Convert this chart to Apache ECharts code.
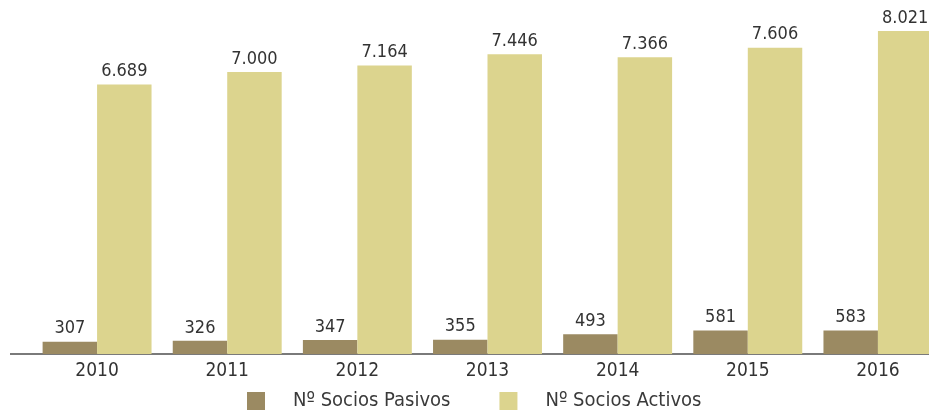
<!DOCTYPE html>
<html>
<head>
<meta charset="utf-8">
<script src="https://cdn.jsdelivr.net/npm/echarts@6/dist/echarts.min.js"></script>
<style>html,body{margin:0;padding:0;background:#fff}#c{width:929px;height:412px}</style>
</head>
<body>
<div id="c"></div>
<script>
var years = ['2010','2011','2012','2013','2014','2015','2016'];
var pasivos = [307, 326, 347, 355, 493, 581, 583];
var activos = [6689, 7000, 7164, 7446, 7366, 7606, 8021];
var seriesNames = ['Nº Socios Pasivos', 'Nº Socios Activos'];

var FONT = "'DejaVu Sans Condensed', 'Liberation Sans Narrow', sans-serif";
function fmt(p){ return String(p.value).replace(/\B(?=(\d{3})+(?!\d))/g, '.'); }

var chart = echarts.init(document.getElementById('c'), null, {renderer:'canvas'});
chart.setOption({
  animation: false,
  backgroundColor: '#ffffff',
  grid: {left: 32, width: 911, top: 0, bottom: 58, containLabel: false, outerBoundsMode: 'none'},
  legend: {
    data: seriesNames,
    left: 247, top: 391, padding: 0,
    itemWidth: 18, itemHeight: 18, itemGap: 49,
    icon: 'rect',
    textStyle: {fontFamily: FONT, fontSize: 20, color: '#3a3a3a', padding: [0,0,0,23]}
  },
  xAxis: {
    type: 'category', data: years,
    axisLine: {lineStyle: {color: '#7a7a7a', width: 2}},
    axisTick: {show: false},
    axisLabel: {fontFamily: FONT, fontSize: 19, color: '#333333', margin: 8}
  },
  yAxis: {type: 'value', min: 0, max: 8790, show: false, splitLine: {show: false}},
  graphic: [{
    type: 'line', shape: {x1: 10, y1: 354, x2: 33, y2: 354},
    style: {stroke: '#7a7a7a', lineWidth: 2}, z: 10
  }],
  series: [
    {name: seriesNames[0], type: 'bar', data: pasivos, barGap: '0%', barCategoryGap: '16.3%',
     itemStyle: {color: '#9b8a62'},
     label: {show: true, position: 'top', distance: 4, formatter: fmt, fontFamily: FONT, fontSize: 18, color: '#333333'}},
    {name: seriesNames[1], type: 'bar', data: activos, barGap: '0%', barCategoryGap: '16.3%',
     itemStyle: {color: '#dcd48e'},
     label: {show: true, position: 'top', distance: 4, formatter: fmt, fontFamily: FONT, fontSize: 18, color: '#333333'}}
  ]
});
</script>
</body>
</html>
